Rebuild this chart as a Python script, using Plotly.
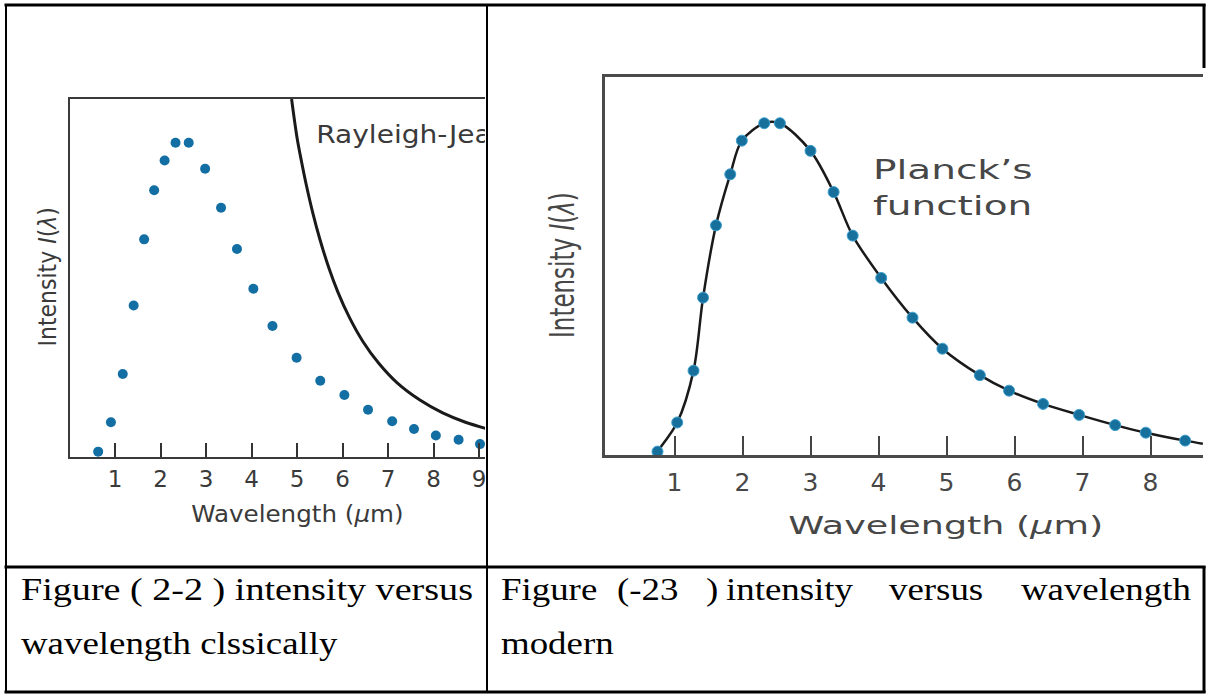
import json
import plotly.graph_objects as go

W, H = 1208, 697

# ---------------- data ----------------
# classical figure: measured points (arbitrary intensity units, 0-100 = plot height)
classic_x = [0.63, 0.91, 1.17, 1.41, 1.64, 1.86, 2.09, 2.33, 2.62, 2.98, 3.33, 3.68,
             4.04, 4.46, 4.99, 5.51, 6.04, 6.56, 7.09, 7.57, 8.05, 8.55, 9.02]
classic_y = [1.5, 9.7, 23.2, 42.3, 60.8, 74.5, 82.8, 87.8, 87.8, 80.5, 69.6, 58.1,
             47.0, 36.6, 27.7, 21.3, 17.3, 13.2, 10.0, 7.8, 6.0, 4.8, 3.6]
# Rayleigh-Jeans curve read points
rj_x = [4.88, 5.0, 5.1, 5.2, 5.35, 5.5, 5.7, 5.9, 6.15, 6.45, 6.8, 7.2, 7.7, 8.2, 8.7, 9.2]
rj_y = [100.0, 89.2, 82.4, 76.2, 68.0, 60.9, 52.8, 46.0, 39.0, 32.2, 26.1, 20.7, 15.9,
        12.3, 9.7, 7.8]

# modern figure: measured points
planck_x = [0.75, 1.04, 1.28, 1.42, 1.61, 1.82, 1.99, 2.32, 2.55, 3.00, 3.34, 3.62,
            4.04, 4.50, 4.94, 5.49, 5.92, 6.42, 6.95, 7.48, 7.93, 8.51]
planck_y = [0.9, 8.6, 22.3, 41.6, 60.7, 74.2, 83.1, 87.7, 87.7, 80.4, 69.5, 58.0,
            46.8, 36.3, 28.1, 21.1, 17.0, 13.5, 10.6, 7.9, 5.9, 3.8]
# Planck curve read points (curve start at the axis and end at the picture edge)
curve_x = [0.72] + planck_x + [8.77]
curve_y = [0.0] + planck_y + [3.0]

ticks_left = [1, 2, 3, 4, 5, 6, 7, 8, 9]
ticks_right = [1, 2, 3, 4, 5, 6, 7, 8]

caption_left = ["Figure ( 2-2 ) intensity versus", "wavelength clssically"]
caption_right_words = ["Figure", "(-23", ")", "intensity", "versus", "wavelength"]
caption_right_line2 = "modern"


def fx(px):
    return px / W


def fy(py):
    return 1 - py / H


SANS = "DejaVu Sans"
SERIF = "Liberation Serif, Times New Roman, serif"
TXT = "#3a3a3a"
TXT2 = "#474747"
DOT = "#136fa3"

fig = go.Figure()

# left: classical
fig.add_trace(go.Scatter(x=rj_x, y=rj_y, mode="lines",
                         line=dict(color="#1a1a1a", width=3, shape="spline", smoothing=1.0),
                         xaxis="x", yaxis="y", showlegend=False, hoverinfo="skip"))
fig.add_trace(go.Scatter(x=classic_x, y=classic_y, mode="markers",
                         marker=dict(color=DOT, size=10), cliponaxis=False,
                         xaxis="x", yaxis="y", showlegend=False))
fig.add_trace(go.Scatter(x=[5.42], y=[89.4], mode="text", text=["Rayleigh-Jeans"],
                         textposition="middle right", cliponaxis=True,
                         textfont=dict(family=SANS, size=24, color=TXT),
                         xaxis="x", yaxis="y", showlegend=False, hoverinfo="skip"))

# right: modern
fig.add_trace(go.Scatter(x=curve_x, y=curve_y, mode="lines",
                         line=dict(color="#1a1a1a", width=2.5, shape="spline", smoothing=0.9),
                         xaxis="x2", yaxis="y2", showlegend=False, hoverinfo="skip"))
fig.add_trace(go.Scatter(x=planck_x, y=planck_y, mode="markers",
                         marker=dict(color="#17709c", size=11, line=dict(color="#3d9fcf", width=1)),
                         cliponaxis=False, xaxis="x2", yaxis="y2", showlegend=False))

axis_common = dict(showgrid=False, zeroline=False, showline=True, mirror=True,
                   ticks="inside", tickmode="array")

fig.update_layout(
    width=W, height=H, margin=dict(l=0, r=0, t=0, b=0),
    paper_bgcolor="white", plot_bgcolor="white",
    xaxis=dict(domain=[fx(69.5), fx(485)], range=[0, 9.13], tickvals=ticks_left,
               ticktext=[str(t) for t in ticks_left], ticklen=14, tickwidth=2,
               tickcolor="#333", linecolor="#3a3a3a", linewidth=2,
               tickfont=dict(family=SANS, size=23, color=TXT), ticklabelstandoff=0,
               **axis_common),
    yaxis=dict(domain=[fy(457), fy(99)], range=[0, 100], showgrid=False, zeroline=False,
               showline=True, mirror=False, linecolor="#3a3a3a", linewidth=2,
               showticklabels=False, ticks=""),
    xaxis2=dict(domain=[fx(605), fx(1203)], range=[-0.022, 8.772], tickvals=ticks_right,
                ticktext=[str(t) for t in ticks_right], ticklen=19, tickwidth=2,
                tickcolor="#444", linecolor="#4a4a4a", linewidth=2.5, anchor="y2",
                tickfont=dict(family=SANS, size=25, color=TXT2), ticklabelstandoff=3,
                **axis_common),
    yaxis2=dict(domain=[fy(455), fy(76.7)], range=[0, 100], anchor="x2", showgrid=False,
                zeroline=False, showline=True, mirror=False, linecolor="#4a4a4a",
                linewidth=2.5, showticklabels=False, ticks=""),
)

ann = []
stretch = {}
ORIGIN = {"left": "0% 50%", "center": "50% 50%", "right": "100% 50%"}


def add_ann(text, px, py, size, family, color, xanchor="center", angle=0, sx=1.0, sy=1.0):
    idx = len(ann)
    ann.append(dict(text=text, x=fx(px), y=fy(py), xref="paper", yref="paper",
                    xanchor=xanchor, yanchor="middle", textangle=angle, showarrow=False,
                    align=xanchor, font=dict(family=family, size=size, color=color)))
    if sx != 1.0 or sy != 1.0:
        stretch[str(idx)] = [sx, sy, ORIGIN[xanchor]]


# left axis titles
add_ann("Intensity <i>I</i>(<i>λ</i>)", 47.5, 277, 22, SANS, TXT, angle=-90, sy=1.1)
add_ann("Wavelength (<i>μ</i>m)", 297, 514, 23, SANS, TXT, sx=1.07)
# right axis titles
add_ann("Intensity <i>I</i>(<i>λ</i>)", 562, 265, 23, SANS, TXT2, angle=-90, sy=1.45)
add_ann("Wavelength (<i>μ</i>m)", 946, 526, 24, SANS, TXT2, sx=1.52)
add_ann("Planck’s", 871, 170, 26, SANS, TXT2, xanchor="left", sx=1.5)
add_ann("function", 871, 206, 26, SANS, TXT2, xanchor="left", sx=1.5)
# captions
CAP = 31
add_ann(caption_left[0], 19, 589, CAP, SERIF, "black", xanchor="left", sx=1.23)
add_ann(caption_left[1], 19, 643, CAP, SERIF, "black", xanchor="left", sx=1.19)
right_starts = [499, 615, 704, 724, 887]
for word, px in zip(caption_right_words[:-1], right_starts):
    add_ann(word, px, 589, CAP, SERIF, "black", xanchor="left", sx=1.19)
add_ann(caption_right_words[-1], 1193, 589, CAP, SERIF, "black", xanchor="right", sx=1.19)
add_ann(caption_right_line2, 499, 643, CAP, SERIF, "black", xanchor="left", sx=1.19)

fig.update_layout(annotations=ann)

# table lines (paper coordinates)
shapes = []
shapes.append(dict(type="rect", xref="paper", yref="paper", x0=fx(485.5), x1=fx(540),
                   y0=fy(462), y1=fy(500), fillcolor="white", line=dict(width=0), layer="above"))


def hline(py, x0, x1, w):
    return dict(type="line", xref="paper", yref="paper", x0=fx(x0), x1=fx(x1),
                y0=fy(py), y1=fy(py), line=dict(color="black", width=w), layer="above")


def vline(px, y0, y1, w):
    return dict(type="line", xref="paper", yref="paper", x0=fx(px), x1=fx(px),
                y0=fy(y0), y1=fy(y1), line=dict(color="black", width=w), layer="above")


shapes += [
    hline(5, 4.5, 1205.5, 3),
    hline(567, 4.5, 1205.5, 3),
    hline(692, 4.5, 1205.5, 3),
    vline(6, 4, 693, 2),
    vline(487, 4, 693, 2),
    vline(1204, 4, 68, 3),
    vline(1204, 566, 693, 3),
]
fig.update_layout(shapes=shapes)

# horizontal stretch of the text, as in the (stretched) reference picture
post_js = """
var gd = document.getElementById('{plot_id}');
var S = __S__;
var TS = 1.17;
function stretchText(){
  gd.querySelectorAll('g.annotation').forEach(function(g){
    var f = S[g.getAttribute('data-index')];
    if(!f) return;
    var t = g.querySelector('text.annotation-text');
    if(!t) return;
    t.style.transformBox = 'fill-box';
    t.style.transformOrigin = f[2];
    t.style.transform = 'scale(' + f[0] + ',' + f[1] + ')';
  });
  gd.querySelectorAll('g.textpoint text').forEach(function(t){
    t.style.transformBox = 'fill-box';
    t.style.transformOrigin = '0% 50%';
    t.style.transform = 'scale(' + TS + ',1)';
  });
}
stretchText();
if (gd.on) { gd.on('plotly_afterplot', stretchText); }
""".replace("__S__", json.dumps(stretch))

fig.write_html("out.html", post_script=post_js)
